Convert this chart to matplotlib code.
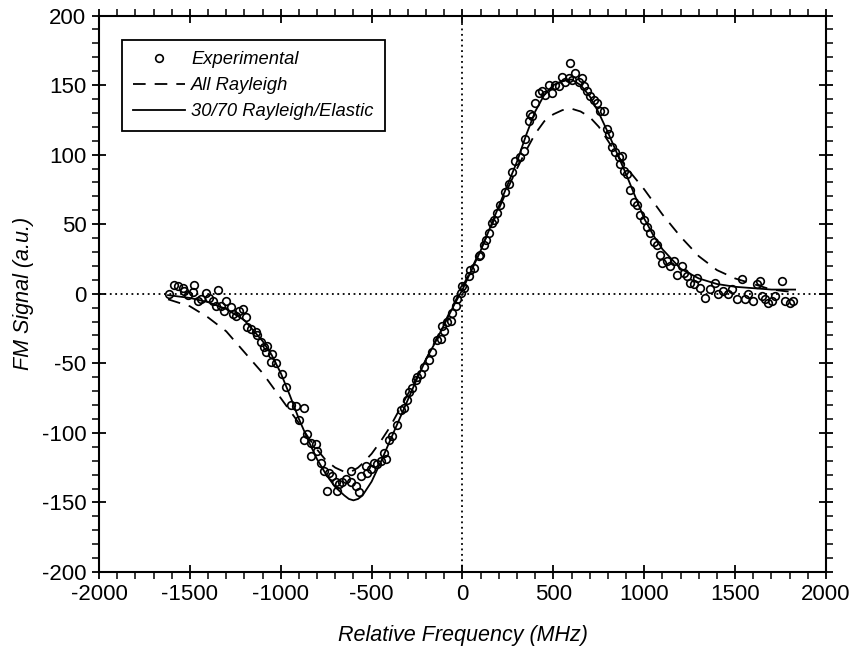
import matplotlib
matplotlib.use("Agg")
import matplotlib.pyplot as plt
from matplotlib.ticker import MultipleLocator

plt.rcParams['font.family'] = ['Liberation Sans', 'DejaVu Sans']
plt.rcParams['axes.unicode_minus'] = False

# experimental points (MHz, a.u.)
exp_x = [-1613, -1586, -1567, -1540, -1531, -1512, -1485, -1476, -1458, -1439,
         -1412, -1393, -1375, -1357, -1348, -1329, -1311, -1302, -1274, -1265,
         -1247, -1229, -1210, -1192, -1183, -1164, -1137, -1128, -1109, -1091,
         -1082, -1073, -1054,
         -1046, -1028, -991, -973, -945, -918, -899, -872, -872, -853,
         -835, -835, -808, -799, -780, -762, -744, -734, -716, -698,
         -689, -679, -661, -643, -615, -615, -588, -570, -560, -533,
         -524, -505, -487, -469, -450, -432, -423, -405, -386, -359,
         -341, -322, -304, -295, -277, -258, -249, -231, -212,
         -185, -167, -139, -121, -112, -102, -84, -66, -57, -38,
         -29, -11, -2, 7, 35, 44, 62, 90, 99, 117, 127, 145, 163,
         172, 190, 209, 236, 255, 273, 291, 319, 337, 346, 365, 374, 383, 401,
         419, 438, 456, 474, 493, 511, 529, 548, 566, 584, 593, 603, 621,
         639, 658, 667, 685, 703, 722, 740, 758, 777, 795, 804, 822, 841,
         859, 868,
         877, 886, 905, 923, 941, 960, 978, 996, 1015, 1033, 1051, 1070,
         1088, 1097, 1124, 1143, 1161, 1179, 1207, 1216, 1234, 1253, 1271,
         1289, 1308, 1335, 1363, 1390, 1408, 1436, 1463, 1482, 1509, 1537,
         1555, 1573, 1601, 1619, 1637, 1647, 1665, 1683, 1702, 1720, 1757,
         1775, 1803, 1821]
exp_y = [-0.5, 6.6, 5.5, 4.3, 1.9, -1, 1.4, 6.6, -5.2, -4,
         0.7, -2.8, -5.2, -8.8, 2.4, -8.8, -12.3, -5.2, -9.5, -14.2,
         -15.9, -12.3, -11.1, -17, -24.2, -25.3, -27.7, -30, -34.8, -38.4,
         -41.9, -37.9, -49,
         -43, -50, -57.4, -66.9, -79.9, -81, -90.5, -82.3, -104.8, -101,
         -107.1, -116.6, -108.3, -113, -121.3, -127.3, -141.5, -128.5, -130.8, -135.6,
         -141.5, -136.8, -135.6, -133.2, -127.3, -135.6, -138, -142.7, -130.8, -123.7,
         -128.5, -126.1, -121.3, -122.5, -120.2, -114.2, -119, -104.8, -102.4, -94.1,
         -83.4, -82.3, -76.3, -70.4, -68, -62.1, -59.7, -57.4, -52.6,
         -47.8, -41.9, -33.6, -32.4, -22.9, -26.5, -20.6, -19.4, -13.5, -8.7,
         -4, 0.8, 5.5, 4.3, 12.6, 17.3, 18.5, 26.8, 28, 35.1, 38.7, 43.4, 50.5,
         53, 57.8, 63.7, 73.2, 79.1, 87.4, 95.7, 98.1, 102.8, 111.1, 124.1, 128.9, 127.7, 137,
         144.3, 145.5, 143.1, 150.2, 144.3, 150.2, 149, 156.1, 152.5, 154.9, 165.6, 153.7, 158.5,
         152.5, 154.9, 149, 145.5, 141.9, 139.5, 137.2, 131.2, 131.2, 118.2, 114.7, 105.2, 101.6,
         98.1, 93.3,
         99.2, 88.5, 86.1, 74.3, 66, 63.6, 56.5, 52.9, 48.2, 43.5, 37.5, 35.2,
         28.1, 22.1, 23.3, 19.8, 23.3, 13.8, 19.8, 15, 12.7, 7.9, 6.7,
         11.5, 4.4, -2.8, 3.2, 7.9, -0.4, 2, -0.4, 3.2, -3.9, 10.3,
         -3.9, -0.4, -5.1, 6.7, 9.1, -1.6, -3.9, -6.3, -5.1, -1.6, 9.1,
         -5.1, -6.3, -5.1]

# model curves
fit_x = [-1620, -1500, -1400, -1300, -1200, -1100, -1050, -1000, -950, -900,
         -850, -800, -750, -700, -650, -625, -600, -575, -550, -500, -450, -400,
         -350, -300, -250, -200, -150, -100, -50, 0, 50, 100,
         150, 200, 250, 300, 350, 400, 450, 500, 550, 600,
         650, 700, 750, 800, 850, 900, 950, 1000, 1050, 1100,
         1200, 1300, 1400, 1500, 1600, 1700, 1830]
rayleigh_y = [-4, -9, -17, -27, -42, -57, -66, -75, -84, -93,
              -103, -112, -120, -125, -128, -128, -127, -125, -122, -115, -106, -96,
              -84, -72, -60, -47, -34, -21, -8, 5, 18, 32,
              46, 61, 76, 90, 103, 115, 124, 129, 132, 133,
              131, 127, 120, 110, 100, 91, 83, 75, 66, 57,
              41, 27, 17, 11, 7, 3, 1]
mixed_y = [-1, -3, -6, -11, -19, -34, -44, -57, -73, -90,
           -105, -119, -130, -139, -145, -147.5, -148.5, -147.5, -145, -135, -121, -106,
           -91, -76, -61, -47, -35, -22, -9, 3, 17, 31,
           47, 63, 79, 95, 114, 131, 143, 150, 153, 154,
           150, 142, 130, 116, 101, 86, 70, 54, 42, 32,
           18, 11, 7, 5, 4, 3, 3]

fig = plt.figure(figsize=(8.53, 6.54), dpi=100)
ax = fig.add_axes([99/853, 1 - 572/654, 727/853, 556.5/654])

ax.axhline(0, color='black', ls=(0, (1, 2)), lw=1.3, zorder=1)
ax.axvline(0, color='black', ls=(0, (1, 2)), lw=1.3, zorder=1)

ax.plot(exp_x, exp_y, 'o', ms=5.5, mfc='none', mec='black', mew=1.2,
        label='Experimental', zorder=3)
ax.plot(fit_x, rayleigh_y, color='black', lw=1.3, ls=(0, (7, 5)),
        label='All Rayleigh', zorder=2)
ax.plot(fit_x, mixed_y, color='black', lw=1.3, label='30/70 Rayleigh/Elastic',
        zorder=2)

ax.set_xlim(-2000, 2000)
ax.set_ylim(-200, 200)
ax.xaxis.set_major_locator(MultipleLocator(500))
ax.xaxis.set_minor_locator(MultipleLocator(100))
ax.yaxis.set_major_locator(MultipleLocator(50))
ax.yaxis.set_minor_locator(MultipleLocator(10))
ax.tick_params(which='major', direction='inout', length=10, width=1.3,
               top=True, right=True, labelsize=16, pad=4)
ax.tick_params(which='minor', direction='out', length=5, width=1.1,
               top=True, right=True)
for s in ax.spines.values():
    s.set_linewidth(1.5)

ax.set_xlabel('Relative Frequency (MHz)', fontsize=15.5, style='italic', labelpad=14)
ax.set_ylabel('FM Signal (a.u.)', fontsize=15.5, style='italic', labelpad=6)

leg = ax.legend(loc='upper left', bbox_to_anchor=(0.032, 0.956), borderaxespad=0,
                numpoints=1, handlelength=2.8, handletextpad=0.35,
                fancybox=False, framealpha=1, edgecolor='black',
                prop={'style': 'italic', 'size': 13.2},
                borderpad=0.6, labelspacing=0.5)
leg.get_frame().set_linewidth(1.3)

fig.savefig('out.png', dpi=100)
